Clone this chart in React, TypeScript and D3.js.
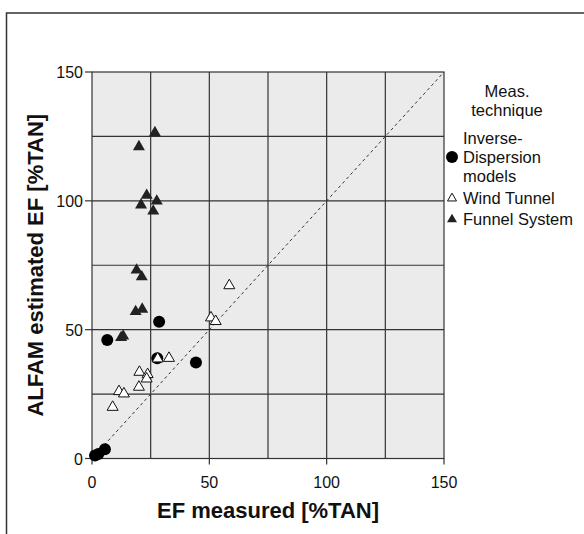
import React from "react";
import * as d3 from "d3";

const inverseDispersion: [number, number][] = [
  [28.6, 53.1], [6.5, 46.0], [27.8, 38.9], [44.3, 37.3],
  [5.5, 3.6], [2.7, 1.7], [1.3, 1.2],
];
const windTunnel: [number, number][] = [
  [58.5, 67.3], [50.7, 54.8], [52.7, 53.4], [28.0, 38.9], [32.8, 39.1],
  [20.2, 33.7], [23.7, 32.8], [23.3, 31.1], [20.0, 27.9], [11.5, 26.2],
  [13.6, 25.3], [8.8, 20.1],
];
const funnelSystem: [number, number][] = [
  [26.8, 126.6], [20.0, 121.2], [23.3, 102.3], [20.9, 98.6], [27.6, 100.1],
  [26.1, 96.2], [19.0, 73.3], [21.2, 70.7], [18.6, 57.2], [21.4, 58.1],
  [12.4, 47.1], [13.3, 47.7],
];
const ticks = [0, 50, 100, 150];
const grid = [25, 50, 75, 100, 125];
const legendItems = [
  { lines: ["Inverse-", "Dispersion", "models"], shape: "circle" },
  { lines: ["Wind Tunnel"], shape: "open" },
  { lines: ["Funnel System"], shape: "filled" },
];

const font = "'Liberation Sans', Arial, Helvetica, sans-serif";

function tri(cx: number, cy: number, s: number) {
  const h = s * 0.866;
  return `M${cx},${cy - h * 0.62}L${cx + s / 2},${cy + h * 0.38}L${cx - s / 2},${cy + h * 0.38}Z`;
}

export default function App() {
  const width = 584;
  const height = 534;
  const left = 92, right = 444, top = 72, bottom = 458.5;
  const lh = 19; // legend line height

  const x = d3.scaleLinear([0, 150], [left, right]);
  const y = d3.scaleLinear([0, 150], [bottom, top]);

  return (
    <svg width={width} height={height} style={{ position: "absolute", left: 0, top: 0 }} fontFamily={font}>
      <rect x={0} y={0} width={width} height={height} fill="#fff" />
      <rect x={6.5} y={13} width={width + 20} height={height + 20} fill="none" stroke="#333" strokeWidth={1.5} />

      <rect x={left} y={top} width={right - left} height={bottom - top} fill="#ebebeb" />
      {grid.map(g => (
        <g key={g}>
          <line x1={x(g)} x2={x(g)} y1={top} y2={bottom} stroke="#333" strokeWidth={1.2} />
          <line x1={left} x2={right} y1={y(g)} y2={y(g)} stroke="#333" strokeWidth={1.2} />
        </g>
      ))}
      <rect x={left} y={top} width={right - left} height={bottom - top} fill="none" stroke="#333" strokeWidth={1.2} />

      <line x1={x(0)} y1={y(0)} x2={x(150)} y2={y(150)} stroke="#333" strokeWidth={1} strokeDasharray="3,3" />

      {ticks.map(t => (
        <g key={"x" + t}>
          <line x1={x(t)} x2={x(t)} y1={bottom} y2={bottom + 6} stroke="#333" strokeWidth={1.2} />
          <text x={x(t)} y={488} fontSize={16} textAnchor="middle" fill="#111">{t}</text>
          <line x1={left - 7} x2={left} y1={y(t)} y2={y(t)} stroke="#333" strokeWidth={1.2} />
          <text x={left - 9} y={y(t) + 6} fontSize={16} textAnchor="end" fill="#111">{t}</text>
        </g>
      ))}

      <text x={(left + right) / 2} y={518} fontSize={22} fontWeight="bold" textAnchor="middle" fill="#111">
        EF measured [%TAN]
      </text>
      <text transform={`translate(43,${(top + bottom) / 2}) rotate(-90)`} fontSize={22} fontWeight="bold" textAnchor="middle" fill="#111">
        ALFAM estimated EF [%TAN]
      </text>

      {funnelSystem.map((d, i) => (
        <path key={"f" + i} d={tri(x(d[0]), y(d[1]), 12)} fill="#222" />
      ))}
      {inverseDispersion.map((d, i) => (
        <circle key={"c" + i} cx={x(d[0])} cy={y(d[1])} r={6} fill="#000" />
      ))}
      {windTunnel.map((d, i) => (
        <path key={"w" + i} d={tri(x(d[0]), y(d[1]), 11)} fill="#fff" stroke="#111" strokeWidth={1} />
      ))}

      <text x={507} y={97} fontSize={16.5} textAnchor="middle" fill="#111">
        <tspan x={507}>Meas.</tspan>
        <tspan x={507} dy={lh}>technique</tspan>
      </text>
      {legendItems.map((it, i) => {
        const cy = [157, 198, 219][i];
        const y0 = cy - ((it.lines.length - 1) * lh) / 2;
        return (
          <g key={i}>
            {it.shape === "circle" && <circle cx={452} cy={cy} r={6} fill="#000" />}
            {it.shape === "open" && <path d={tri(452, cy, 9)} fill="#fff" stroke="#111" strokeWidth={1} />}
            {it.shape === "filled" && <path d={tri(452, cy, 10)} fill="#222" />}
            <text x={463} y={y0 + 6} fontSize={16.5} fill="#111">
              {it.lines.map((l, j) => (
                <tspan key={j} x={463} dy={j === 0 ? 0 : lh}>{l}</tspan>
              ))}
            </text>
          </g>
        );
      })}
    </svg>
  );
}
